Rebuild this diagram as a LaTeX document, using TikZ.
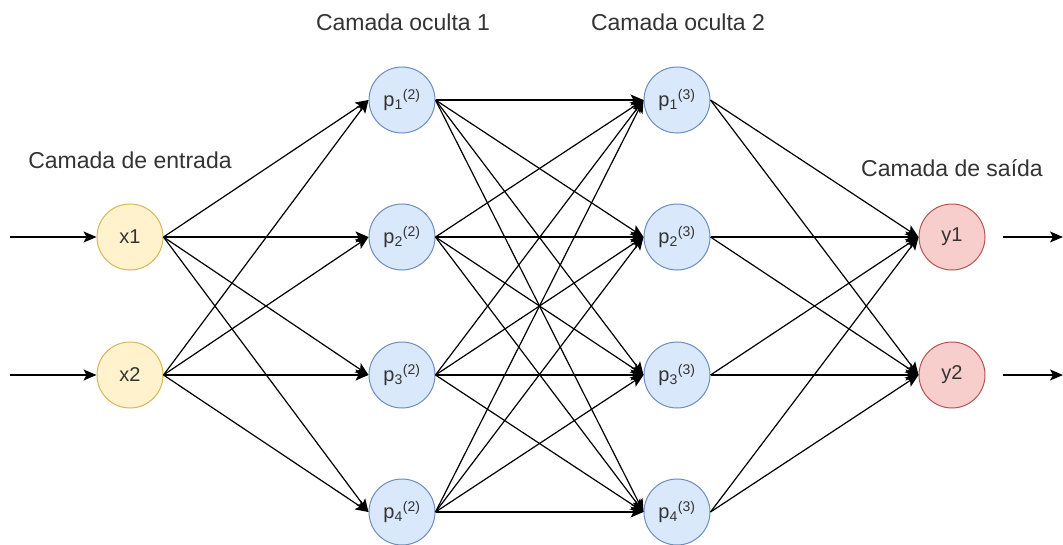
\documentclass[tikz,border=0pt]{standalone}
\usepackage{fontspec}
\setmainfont{Liberation Sans}
\usetikzlibrary{arrows.meta}
\definecolor{inFill}{HTML}{FFF2CC}
\definecolor{inLine}{HTML}{D6B656}
\definecolor{hidFill}{HTML}{DAE8FC}
\definecolor{hidLine}{HTML}{6C8EBF}
\definecolor{outFill}{HTML}{F8CECC}
\definecolor{outLine}{HTML}{B85450}
\definecolor{txt}{HTML}{333333}
\tikzset{
  neuron/.style={circle, minimum size=66pt, inner sep=0pt, line width=1pt, text=txt,
    font=\fontsize{20}{24}\selectfont},
  innode/.style={neuron, fill=inFill, draw=inLine},
  hidnode/.style={neuron, fill=hidFill, draw=hidLine},
  outnode/.style={neuron, fill=outFill, draw=outLine},
  layerlabel/.style={text=txt, font=\fontsize{23}{27}\selectfont, inner sep=0pt},
  conn/.style={line width=1.2pt, -{Stealth[length=13pt,width=11pt,inset=3pt]}},
}
\newcommand{\pnode}[2]{p\textsubscript{#1}\textsuperscript{(#2)}}
\begin{document}
\begin{tikzpicture}[x=1pt,y=-1pt]
\useasboundingbox (0,0) rectangle (1063,544);
% labels
\node[layerlabel] (l0) at (130,160) {Camada de entrada};
\node[layerlabel] (l1) at (403,22) {Camada oculta 1};
\node[layerlabel] (l2) at (678,22) {Camada oculta 2};
\node[layerlabel] (l3) at (952,168) {Camada de saída};
% nodes
\node[innode] (x1) at (130,237) {x1};
\node[innode] (x2) at (130,375) {x2};
\foreach \i/\y in {1/100,2/237,3/375,4/512}{
  \node[hidnode] (a\i) at (402,\y) {\pnode{\i}{2}};
  \node[hidnode] (b\i) at (677,\y) {\pnode{\i}{3}};
}
\node[outnode] (y1) at (952,237) {y1};
\node[outnode] (y2) at (952,375) {y2};
% input/output stubs
\coordinate (s1) at (10,237);
\coordinate (s2) at (10,375);
\coordinate (e1) at (1063,237);
\coordinate (e2) at (1063,375);
\coordinate (o1) at (1003,237);
\coordinate (o2) at (1003,375);
\draw[conn] (s1) -- (x1.west);
\draw[conn] (s2) -- (x2.west);
\draw[conn] (o1) -- (e1);
\draw[conn] (o2) -- (e2);
% connections
\foreach \s in {x1,x2}{
  \foreach \j in {1,...,4}{
    \draw[conn] (\s.east) -- (a\j.west);
  }
}
\foreach \i in {1,...,4}{
  \foreach \j in {1,...,4}{
    \draw[conn] (a\i.east) -- (b\j.west);
  }
}
\foreach \i in {1,...,4}{
  \foreach \t in {y1,y2}{
    \draw[conn] (b\i.east) -- (\t.west);
  }
}
\end{tikzpicture}
\end{document}
